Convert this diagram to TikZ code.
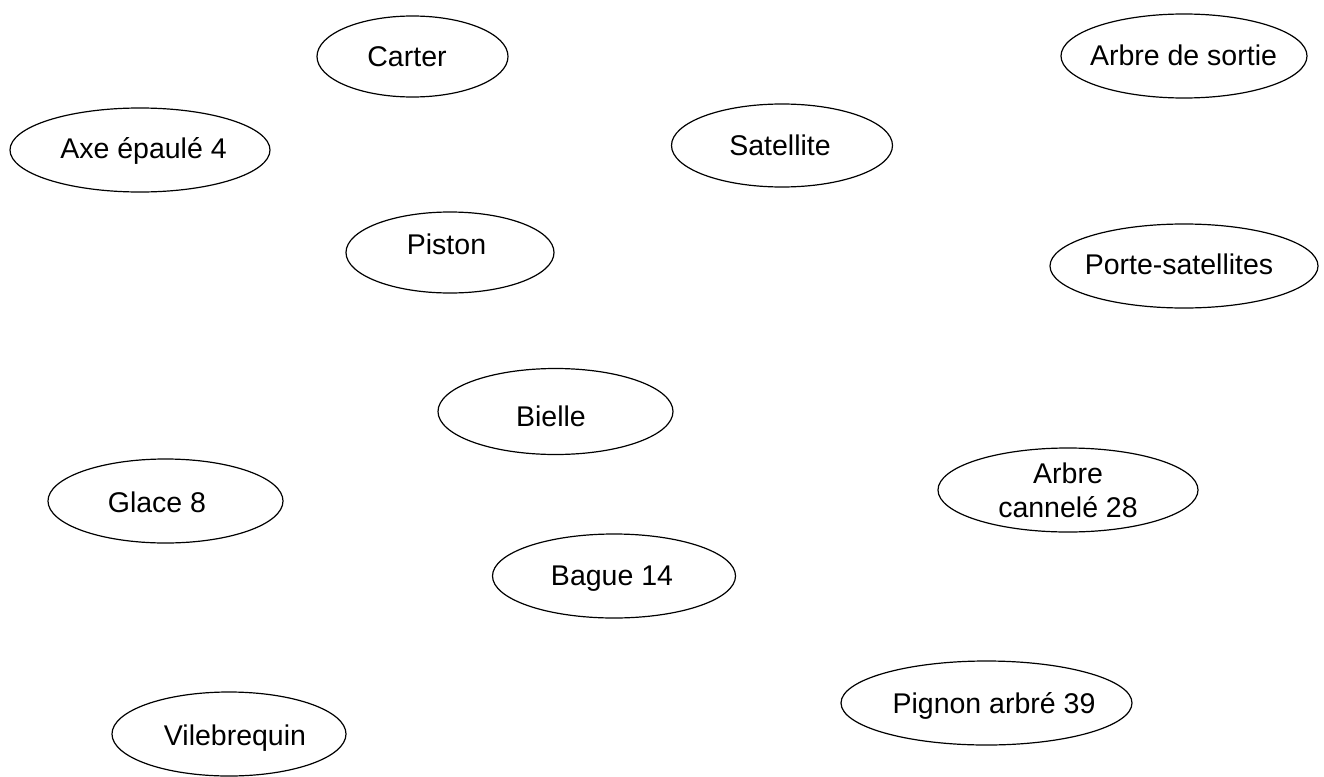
\documentclass[tikz,border=0pt]{standalone}
\usepackage{fontspec}
\setmainfont{Liberation Sans}
\usetikzlibrary{shapes.geometric}
\begin{document}
\begin{tikzpicture}[x=1pt,y=-1pt,
  part/.style={draw, line width=1.2pt, ellipse, inner sep=0pt},
  lab/.style={inner sep=0pt, anchor=base, font=\fontsize{28.5}{34}\selectfont, align=center}]
\useasboundingbox (0,0) rectangle (1324,776);
\node[part, minimum width=191, minimum height=81] (carter) at (412.5,56.5) {};
\node[lab] (carter-t) at (407,66.5) {Carter};
\node[part, minimum width=246, minimum height=84] (sortie) at (1184,56) {};
\node[lab] (sortie-t) at (1183.5,66) {Arbre de sortie};
\node[part, minimum width=260, minimum height=84] (axe) at (140,150) {};
\node[lab] (axe-t) at (143.5,158) {Axe épaulé 4};
\node[part, minimum width=221, minimum height=83] (sat) at (782,145.5) {};
\node[lab] (sat-t) at (780,155) {Satellite};
\node[part, minimum width=208, minimum height=81] (piston) at (450,252.5) {};
\node[lab] (piston-t) at (446.5,254) {Piston};
\node[part, minimum width=268, minimum height=84] (porte) at (1184,266) {};
\node[lab] (porte-t) at (1179,274) {Porte-satellites};
\node[part, minimum width=235, minimum height=86] (bielle) at (555.5,411.5) {};
\node[lab] (bielle-t) at (551,426) {Bielle};
\node[part, minimum width=235, minimum height=84] (glace) at (165.5,501) {};
\node[lab] (glace-t) at (157,512) {Glace 8};
\node[part, minimum width=260, minimum height=84] (cannele) at (1068,490) {};
\node[lab, anchor=center] (cannele-t) at (1068,490) {Arbre\\cannelé 28};
\node[part, minimum width=243, minimum height=84] (bague) at (614,576) {};
\node[lab] (bague-t) at (612,585) {Bague 14};
\node[part, minimum width=291, minimum height=84] (pignon) at (986.5,703) {};
\node[lab] (pignon-t) at (994,713) {Pignon arbré 39};
\node[part, minimum width=234, minimum height=84] (vile) at (229,734) {};
\node[lab] (vile-t) at (235,745) {Vilebrequin};
\end{tikzpicture}
\end{document}
